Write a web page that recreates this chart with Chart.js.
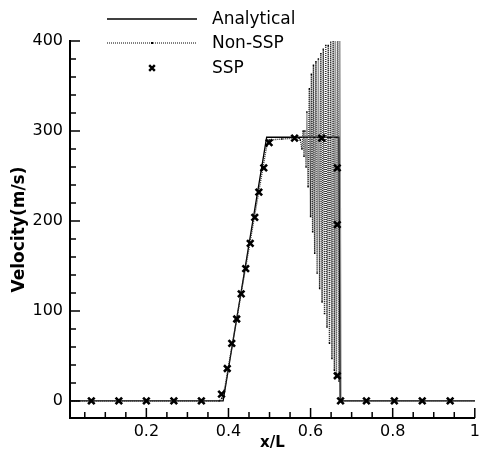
<!DOCTYPE html>
<html>
<head>
<meta charset="utf-8">
<script src="https://cdn.jsdelivr.net/npm/chart.js@4.4.1/dist/chart.umd.min.js"></script>
<style>
  html, body { margin: 0; padding: 0; background: #fff; }
  #c { display: block; }
</style>
</head>
<body>
<canvas id="c" width="482" height="452"></canvas>
<script>
// values
const analyticalX = [0.014, 0.387, 0.493, 0.669, 0.672, 1.0];
const analyticalY = [0, 0, 293, 293, 0, 0];

const nonSspX = [0.014, 0.378, 0.384, 0.390, 0.493, 0.499, 0.530, 0.560, 0.572, 0.575, 0.579, 0.582, 0.584,
  0.586, 0.589, 0.591, 0.594, 0.597, 0.600, 0.602, 0.605, 0.607, 0.610, 0.613, 0.616,
  0.619, 0.622, 0.625, 0.628, 0.631, 0.634, 0.637, 0.640, 0.643, 0.646, 0.649, 0.652,
  0.655, 0.658, 0.660, 0.663, 0.666, 0.669, 0.671, 0.674, 0.677, 1.0];
const nonSspY = [0, 0, 3, 12, 283, 290, 291, 292, 292, 290, 280, 300, 272,
  300, 260, 321, 238, 347, 205, 363, 188, 373, 164, 377, 142,
  380, 125, 386, 110, 391, 97, 395, 82, 395, 64, 402, 47,
  425, 34, 440, 30, 450, 22, 440, 0, 0, 0];

const sspX = [0.066, 0.133, 0.200, 0.267, 0.334, 0.383, 0.397, 0.408, 0.420, 0.431, 0.442, 0.453, 0.464,
  0.474, 0.486, 0.499, 0.561, 0.627, 0.665, 0.665, 0.665, 0.673, 0.736, 0.804, 0.872, 0.940];
const sspY = [0, 0, 0, 0, 0, 7.5, 36, 64, 91, 119, 147, 175, 204,
  232, 259, 287, 292, 292, 259, 196, 28, 0, 0, 0, 0, 0];

const xMajorTicks = [0.2, 0.4, 0.6, 0.8, 1];
const xMinorTicks = [0.05, 0.1, 0.15, 0.25, 0.3, 0.35, 0.45, 0.5, 0.55, 0.65, 0.7, 0.75, 0.85, 0.9, 0.95];
const yMajorTicks = [0, 100, 200, 300, 400];
const yMinorTicks = [20, 40, 60, 80, 120, 140, 160, 180, 220, 240, 260, 280, 320, 340, 360, 380];

const seriesNames = ['Analytical', 'Non-SSP', 'SSP'];

function pts(xs, ys) {
  return xs.map((v, i) => ({x: v, y: ys[i]}));
}

// tecplot style ticks pointing into the plot
const innerTicks = {
  id: 'innerTicks',
  afterDraw(chart) {
    const {ctx, chartArea: a} = chart;
    const x = chart.scales.x, y = chart.scales.y;
    ctx.save();
    ctx.strokeStyle = '#000';
    ctx.lineWidth = 1.5;
    ctx.beginPath();
    xMajorTicks.forEach(v => { const p = x.getPixelForValue(v); ctx.moveTo(p, a.bottom); ctx.lineTo(p, a.bottom - 10); });
    xMinorTicks.forEach(v => { const p = x.getPixelForValue(v); ctx.moveTo(p, a.bottom); ctx.lineTo(p, a.bottom - 6); });
    yMajorTicks.forEach(v => { const p = y.getPixelForValue(v); ctx.moveTo(a.left, p); ctx.lineTo(a.left + 10, p); });
    yMinorTicks.forEach(v => { const p = y.getPixelForValue(v); ctx.moveTo(a.left, p); ctx.lineTo(a.left + 6, p); });
    ctx.stroke();
    ctx.restore();
  }
};

// legend in the top left, like the original
const topLegend = {
  id: 'topLegend',
  afterDraw(chart) {
    const ctx = chart.ctx;
    ctx.save();
    ctx.strokeStyle = '#000';
    ctx.fillStyle = '#000';
    ctx.lineWidth = 1.3;
    ctx.beginPath(); ctx.moveTo(107, 19); ctx.lineTo(197, 19); ctx.stroke();
    ctx.lineWidth = 1;
    ctx.setLineDash([1, 1]);
    ctx.beginPath(); ctx.moveTo(107, 43); ctx.lineTo(197, 43); ctx.stroke();
    ctx.setLineDash([]);
    ctx.fillRect(151, 42, 2, 2);
    ctx.lineWidth = 2.4;
    Chart.helpers.drawPoint(ctx, {pointStyle: 'crossRot', radius: 4, borderWidth: 2.4}, 152, 68);
    ctx.font = '17px "DejaVu Sans"';
    ctx.textBaseline = 'alphabetic';
    ctx.fillText(seriesNames[0], 212, 24);
    ctx.fillText(seriesNames[1], 212, 48);
    ctx.fillText(seriesNames[2], 212, 73);
    ctx.restore();
  }
};

const ctx = document.getElementById('c').getContext('2d');
const chart = new Chart(ctx, {
  type: 'scatter',
  data: {
    datasets: [{
      label: seriesNames[2],
      data: pts(sspX, sspY),
      showLine: false,
      pointStyle: 'crossRot',
      pointRadius: 4.6,
      pointBorderWidth: 2.6,
      borderColor: '#000',
      backgroundColor: '#000'
    }, {
      label: seriesNames[1],
      data: pts(nonSspX, nonSspY),
      showLine: true,
      borderColor: '#333',
      borderWidth: 1.4,
      borderDash: [1, 1],
      pointStyle: 'rect',
      pointRadius: 1,
      pointBorderWidth: 0,
      backgroundColor: '#000',
      tension: 0
    }, {
      label: seriesNames[0],
      data: pts(analyticalX, analyticalY),
      showLine: true,
      borderColor: '#000',
      borderWidth: 1.3,
      pointRadius: 0,
      tension: 0
    }]
  },
  options: {
    responsive: false,
    animation: false,
    layout: { padding: { top: 41, right: 2, left: 0, bottom: 0 } },
    plugins: { legend: { display: false }, tooltip: { enabled: false } },
    scales: {
      x: {
        type: 'linear',
        min: 0.014,
        max: 1,
        grid: { display: false, drawTicks: false },
        border: { display: true, color: '#000', width: 2 },
        ticks: {
          color: '#000',
          font: { family: 'DejaVu Sans', size: 16 },
          padding: 4,
          maxRotation: 0,
          callback: v => String(v)
        },
        afterBuildTicks: s => { s.ticks = xMajorTicks.map(v => ({value: v})); },
        afterFit: s => { s.height = 34; s.paddingLeft = 0; s.paddingRight = 0; },
        title: {
          display: true,
          text: 'x/L',
          color: '#000',
          font: { family: 'DejaVu Sans', size: 15, weight: 'bold' },
          padding: 0
        }
      },
      y: {
        type: 'linear',
        min: -19,
        max: 400,
        grid: { display: false, drawTicks: false },
        border: { display: true, color: '#000', width: 2 },
        ticks: {
          color: '#000',
          font: { family: 'DejaVu Sans', size: 16 },
          padding: 7,
          callback: v => String(v)
        },
        afterBuildTicks: s => { s.ticks = yMajorTicks.map(v => ({value: v})); },
        afterFit: s => { s.width = 70; s.paddingTop = 0; s.paddingBottom = 0; },
        title: {
          display: true,
          text: 'Velocity(m/s)',
          color: '#000',
          font: { family: 'DejaVu Sans', size: 17, weight: 'bold' },
          padding: { top: 9, bottom: 0 }
        }
      }
    }
  },
  plugins: [innerTicks, topLegend]
});
</script>
</body>
</html>
